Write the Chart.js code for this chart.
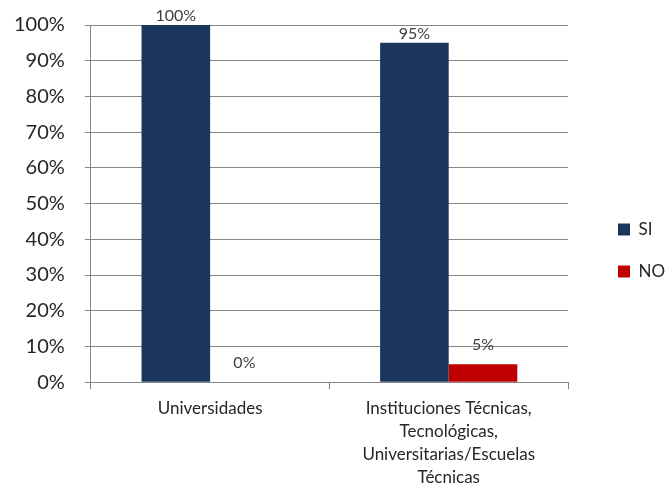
<!DOCTYPE html>
<html>
<head>
<meta charset="utf-8">
<script src="https://cdn.jsdelivr.net/npm/chart.js@4.4.0/dist/chart.umd.min.js"></script>
<style>
  html, body { margin: 0; padding: 0; background: #fff; }
  #wrap { width: 671px; height: 485px; }
</style>
</head>
<body>
<div id="wrap"><canvas id="grafico"></canvas></div>
<script>
// categorias y valores (porcentajes)
const categorias = [
    ['Universidades'],
    ['Instituciones Técnicas,', 'Tecnológicas,', 'Universitarias/Escuelas', 'Técnicas']
];
const valoresSI = [100, 95];
const valoresNO = [0, 5];
const colorSI = '#1b365d';
const colorNO = '#c00000';

// etiquetas encima de cada barra
const etiquetas = {
    id: 'etiquetas',
    afterDatasetsDraw(chart) {
        const c = chart.ctx;
        const fondo = chart.chartArea.bottom;
        c.save();
        c.font = '16px Lato';
        c.fillStyle = '#404040';
        c.textAlign = 'center';
        c.textBaseline = 'middle';
        chart.data.datasets.forEach((ds, i) => {
            chart.getDatasetMeta(i).data.forEach((bar, j) => {
                // las barras bajas llevan la etiqueta un poco mas arriba
                const dy = bar.y > fondo - 40 ? 19 : 9;
                c.fillText(ds.data[j] + '%', bar.x, bar.y - dy);
            });
        });
        c.restore();
    }
};

// leyenda mas ancha y separada del grafico
const leyendaAncha = {
    id: 'leyendaAncha',
    beforeInit(chart) {
        const fit = chart.legend.fit;
        chart.legend.fit = function () {
            fit.call(this);
            this.width = 103;
        };
    },
    afterLayout(chart) {
        chart.legend.left += 25;
        chart.legend.top -= 21;
    }
};

const ctx = document.getElementById('grafico');
const grafico = new Chart(ctx, {
    type: 'bar',
    data: {
        labels: categorias,
        datasets: [{
            label: 'SI',
            data: valoresSI,
            backgroundColor: colorSI,
            categoryPercentage: 0.575,
            barPercentage: 1
        },
        {
            label: 'NO',
            data: valoresNO,
            backgroundColor: colorNO,
            categoryPercentage: 0.575,
            barPercentage: 1
        }]
    },
    options: {
        responsive: true,
        maintainAspectRatio: false,
        animation: false,
        layout: {
            padding: { top: 25, left: -6, right: 0, bottom: -12 }
        },
        plugins: {
            legend: {
                position: 'right',
                labels: {
                    boxWidth: 12,
                    boxHeight: 12,
                    padding: 25,
                    color: '#262626',
                    font: { family: 'Lato', size: 17 }
                }
            },
            tooltip: { enabled: false }
        },
        scales: {
            x: {
                grid: {
                    offset: true,
                    drawOnChartArea: false,
                    drawTicks: true,
                    tickLength: 7,
                    color: '#868686'
                },
                border: { color: '#868686' },
                ticks: {
                    color: '#262626',
                    padding: 8,
                    font: { family: 'Lato', size: 17, lineHeight: 1.35 },
                    maxRotation: 0,
                    autoSkip: false
                }
            },
            y: {
                min: 0,
                max: 100,
                grid: {
                    color: '#868686',
                    tickLength: 6
                },
                border: { color: '#868686' },
                ticks: {
                    stepSize: 10,
                    color: '#262626',
                    padding: 20,
                    font: { family: 'Lato', size: 20, lineHeight: 0.3 },
                    callback: v => v + '%'
                }
            }
        }
    },
    plugins: [etiquetas, leyendaAncha]
});
</script>
</body>
</html>
